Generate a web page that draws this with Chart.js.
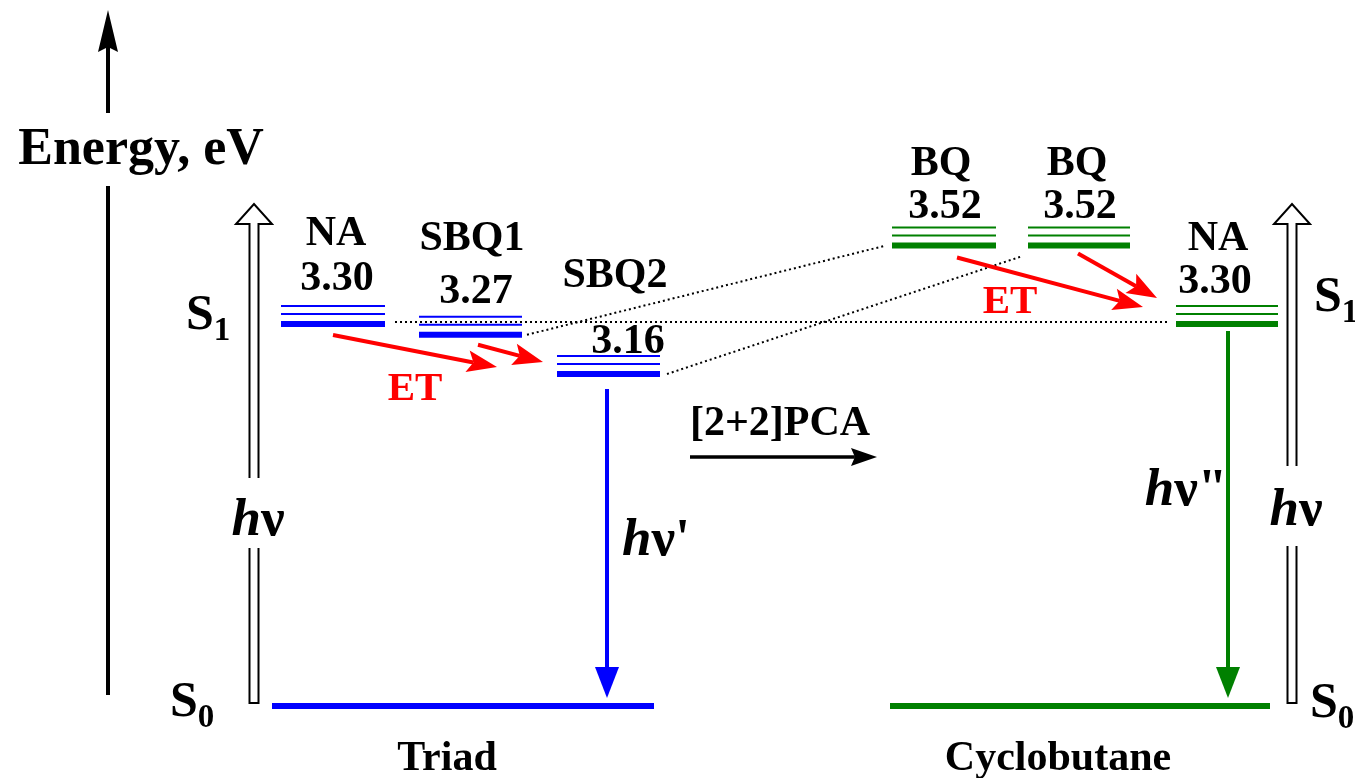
<!DOCTYPE html>
<html>
<head>
<meta charset="utf-8">
<title>Energy diagram: Triad and Cyclobutane</title>
<script src="https://cdn.jsdelivr.net/npm/chart.js@4/dist/chart.umd.min.js"></script>
<style>
  html, body { margin: 0; padding: 0; background: #fff; overflow: hidden; }
  canvas { display: block; }
</style>
</head>
<body>
<canvas id="diagram" width="1355" height="778"></canvas>
<script>
// S1 levels of the triad (eV)
const triadSpecies = ['NA', 'SBQ1', 'SBQ2'];
const triadEnergies = [3.30, 3.27, 3.16];

// S1 levels after [2+2] photocycloaddition (eV)
const cycloSpecies = ['BQ', 'BQ', 'NA'];
const cycloEnergies = [3.52, 3.52, 3.30];

// System names written under each ground state
const systemNames = ['Triad', 'Cyclobutane'];

// ---- layout ----
const triadSpans = [[281, 385], [419, 522], [557, 660]];
const cycloSpans = [[892, 996], [1028, 1130], [1176, 1278]];
const groundSpans = [[272, 654], [890, 1270]];
const GROUND_POS = 2.23;          // S0 drawn schematically below the axis break
const Y_MIN = 2.028, Y_MAX = 4.208;
const THIN_OFFSETS = [-10, -18];  // thin companion lines above each S1 level (px)
const BLUE = '#0000ff', GREEN = '#008000', RED = '#ff0000';
const FONT = '"Liberation Serif", "Times New Roman", serif';

const datasets = [];
function levelSet(span, energy, color) {
  datasets.push({
    data: [{ x: span[0], y: energy }, { x: span[1], y: energy }],
    borderColor: color, borderWidth: 6, pointRadius: 0, level: true
  });
}
triadEnergies.forEach((e, i) => levelSet(triadSpans[i], e, BLUE));
cycloEnergies.forEach((e, i) => levelSet(cycloSpans[i], e, GREEN));

// ground states
[[groundSpans[0], BLUE], [groundSpans[1], GREEN]].forEach(([s, c]) => {
  datasets.push({
    data: [{ x: s[0], y: GROUND_POS }, { x: s[1], y: GROUND_POS }],
    borderColor: c, borderWidth: 6, pointRadius: 0
  });
});

// dotted correlation lines between the two systems
function dotted(a, b) {
  datasets.push({
    data: [a, b], borderColor: '#000', borderWidth: 2, borderDash: [2, 3], pointRadius: 0
  });
}
dotted({ x: 395, y: triadEnergies[0] + 0.006 }, { x: 1168, y: cycloEnergies[2] + 0.006 });
dotted({ x: 527, y: triadEnergies[1] }, { x: 886, y: cycloEnergies[0] });
dotted({ x: 667, y: triadEnergies[2] }, { x: 1022, y: cycloEnergies[1] - 0.03 });

// ---- drawing helpers ----
function arrow(ctx, x1, y1, x2, y2, color, lw, len, halfW, notch) {
  const dx = x2 - x1, dy = y2 - y1, L = Math.hypot(dx, dy);
  const ux = dx / L, uy = dy / L, nx = -uy, ny = ux;
  const bx = x2 - ux * len, by = y2 - uy * len;
  const mx = x2 - ux * len * (1 - notch), my = y2 - uy * len * (1 - notch);
  ctx.save();
  ctx.strokeStyle = color; ctx.lineWidth = lw; ctx.lineCap = 'butt';
  ctx.beginPath(); ctx.moveTo(x1, y1); ctx.lineTo(mx, my); ctx.stroke();
  ctx.fillStyle = color;
  ctx.beginPath();
  ctx.moveTo(x2, y2);
  ctx.lineTo(bx + nx * halfW, by + ny * halfW);
  ctx.lineTo(mx, my);
  ctx.lineTo(bx - nx * halfW, by - ny * halfW);
  ctx.closePath(); ctx.fill();
  ctx.restore();
}

function hollowArrow(ctx, x, yBottom, yTip) {
  const sh = 4.5, hw = 18, hl = 20;
  ctx.save();
  ctx.beginPath();
  ctx.moveTo(x - sh, yBottom);
  ctx.lineTo(x - sh, yTip + hl);
  ctx.lineTo(x - hw, yTip + hl);
  ctx.lineTo(x, yTip);
  ctx.lineTo(x + hw, yTip + hl);
  ctx.lineTo(x + sh, yTip + hl);
  ctx.lineTo(x + sh, yBottom);
  ctx.closePath();
  ctx.fillStyle = '#fff'; ctx.fill();
  ctx.strokeStyle = '#000'; ctx.lineWidth = 2; ctx.stroke();
  ctx.restore();
}

function label(ctx, str, x, y, size, opts = {}) {
  ctx.save();
  ctx.font = (opts.italic ? 'italic ' : '') + 'bold ' + size + 'px ' + FONT;
  ctx.fillStyle = opts.color || '#000';
  ctx.textAlign = opts.align || 'center';
  ctx.textBaseline = 'alphabetic';
  ctx.fillText(str, x, y);
  ctx.restore();
}

// "hν" with italic h, upright nu and optional primes, centred at x
function photon(ctx, primes, x, y) {
  ctx.save();
  ctx.fillStyle = '#000';
  ctx.textBaseline = 'alphabetic';
  ctx.textAlign = 'left';
  const fH = 'italic bold 53px ' + FONT, fN = 'bold 53px ' + FONT;
  ctx.font = fH; const wH = ctx.measureText('h').width;
  ctx.font = fN; const wN = ctx.measureText('\u03BD' + primes).width;
  const x0 = x - (wH + wN) / 2;
  ctx.font = fH; ctx.fillText('h', x0, y);
  ctx.font = fN; ctx.fillText('\u03BD' + primes, x0 + wH, y);
  ctx.restore();
}

function stateLabel(ctx, sub, x, y) {
  ctx.save();
  ctx.font = 'bold 50px ' + FONT;
  ctx.fillStyle = '#000';
  ctx.textAlign = 'left';
  ctx.fillText('S', x, y);
  const w = ctx.measureText('S').width;
  ctx.font = 'bold 33px ' + FONT;
  ctx.fillText(sub, x + w, y + 11);
  ctx.restore();
}

function whiteout(ctx, x, y, w, h) {
  ctx.save(); ctx.fillStyle = '#fff'; ctx.fillRect(x, y, w, h); ctx.restore();
}

const decor = {
  id: 'decor',
  afterDatasetsDraw(chart) {
    const ctx = chart.ctx;
    const X = v => chart.scales.x.getPixelForValue(v);
    const Y = v => chart.scales.y.getPixelForValue(v);

    // thin companion lines of each S1 level
    chart.data.datasets.forEach((ds, i) => {
      if (!ds.level) return;
      const pts = chart.getDatasetMeta(i).data;
      ctx.save();
      ctx.strokeStyle = ds.borderColor; ctx.lineWidth = 2;
      THIN_OFFSETS.forEach(off => {
        ctx.beginPath();
        ctx.moveTo(pts[0].x, pts[0].y + off);
        ctx.lineTo(pts[1].x, pts[1].y + off);
        ctx.stroke();
      });
      ctx.restore();
    });

    const yG = Y(GROUND_POS);

    // energy axis
    ctx.save();
    ctx.strokeStyle = '#000'; ctx.lineWidth = 4;
    ctx.beginPath(); ctx.moveTo(108, 695); ctx.lineTo(108, 186); ctx.stroke();
    ctx.restore();
    arrow(ctx, 108, 113, 108, 10, '#000', 4, 42, 10, 0.12);
    label(ctx, 'Energy, eV', 141, 164, 52);

    // absorption (hollow arrows)
    hollowArrow(ctx, 254, yG - 3, 204);
    hollowArrow(ctx, 1292, yG - 3, 204);
    whiteout(ctx, 240, 478, 30, 70);
    whiteout(ctx, 1278, 466, 30, 80);
    photon(ctx, '', 258, 535);
    photon(ctx, '', 1296, 525);

    // emission arrows
    arrow(ctx, X(607), Y(triadEnergies[2]) + 15, X(607), yG - 8, BLUE, 4, 31, 12, 0);
    arrow(ctx, X(1228), Y(cycloEnergies[2]) + 7, X(1228), yG - 8, GREEN, 4, 31, 12, 0);
    photon(ctx, "'", 656, 555);
    photon(ctx, '"', 1186, 505);

    // energy transfer arrows
    arrow(ctx, X(333), Y(triadEnergies[0]) + 11, X(497), Y(triadEnergies[2]) - 7, RED, 4, 30, 11, 0.2);
    arrow(ctx, X(478), Y(triadEnergies[1]) + 10, X(543), Y(triadEnergies[2]) - 12, RED, 4, 30, 11, 0.2);
    arrow(ctx, X(957), Y(cycloEnergies[0]) + 12, X(1143), Y(cycloEnergies[2]) - 17, RED, 4, 30, 11, 0.2);
    arrow(ctx, X(1078), Y(cycloEnergies[1]) + 8, X(1157), Y(cycloEnergies[2]) - 26, RED, 4, 30, 11, 0.2);
    label(ctx, 'ET', 415, 400, 41, { color: RED });
    label(ctx, 'ET', 1010, 313, 41, { color: RED });

    // photocycloaddition arrow
    arrow(ctx, 690, 457, 877, 457, '#000', 3.5, 26, 9, 0.15);
    label(ctx, '[2+2]PCA', 780, 435, 42);

    // species names and energies
    const triadNameY = [245, 250, 287], triadValY = [290, 303, 353];
    const triadNameX = [336, 472, 615], triadValX = [337, 476, 628];
    triadSpecies.forEach((s, i) => {
      label(ctx, s, triadNameX[i], triadNameY[i], 42);
      label(ctx, triadEnergies[i].toFixed(2), triadValX[i], triadValY[i], 42);
    });
    const cycloNameY = [175, 175, 250], cycloValY = [218, 218, 293];
    const cycloNameX = [941, 1077, 1218], cycloValX = [945, 1080, 1215];
    cycloSpecies.forEach((s, i) => {
      label(ctx, s, cycloNameX[i], cycloNameY[i], 42);
      label(ctx, cycloEnergies[i].toFixed(2), cycloValX[i], cycloValY[i], 42);
    });

    // state labels
    stateLabel(ctx, '1', 186, 329);
    stateLabel(ctx, '1', 1314, 311);
    stateLabel(ctx, '0', 170, 716);
    stateLabel(ctx, '0', 1310, 717);

    // system names
    label(ctx, systemNames[0], 447, 770, 42);
    label(ctx, systemNames[1], 1058, 770, 42);
  }
};

new Chart(document.getElementById('diagram'), {
  type: 'line',
  data: { datasets },
  options: {
    responsive: false,
    animation: false,
    devicePixelRatio: 1,
    layout: { padding: 0 },
    parsing: false,
    normalized: true,
    elements: { line: { tension: 0, borderCapStyle: 'butt' } },
    scales: {
      x: { type: 'linear', min: 0, max: 1355, display: false },
      y: { type: 'linear', min: Y_MIN, max: Y_MAX, display: false }
    },
    plugins: { legend: { display: false }, tooltip: { enabled: false } }
  },
  plugins: [decor]
});
</script>
</body>
</html>
